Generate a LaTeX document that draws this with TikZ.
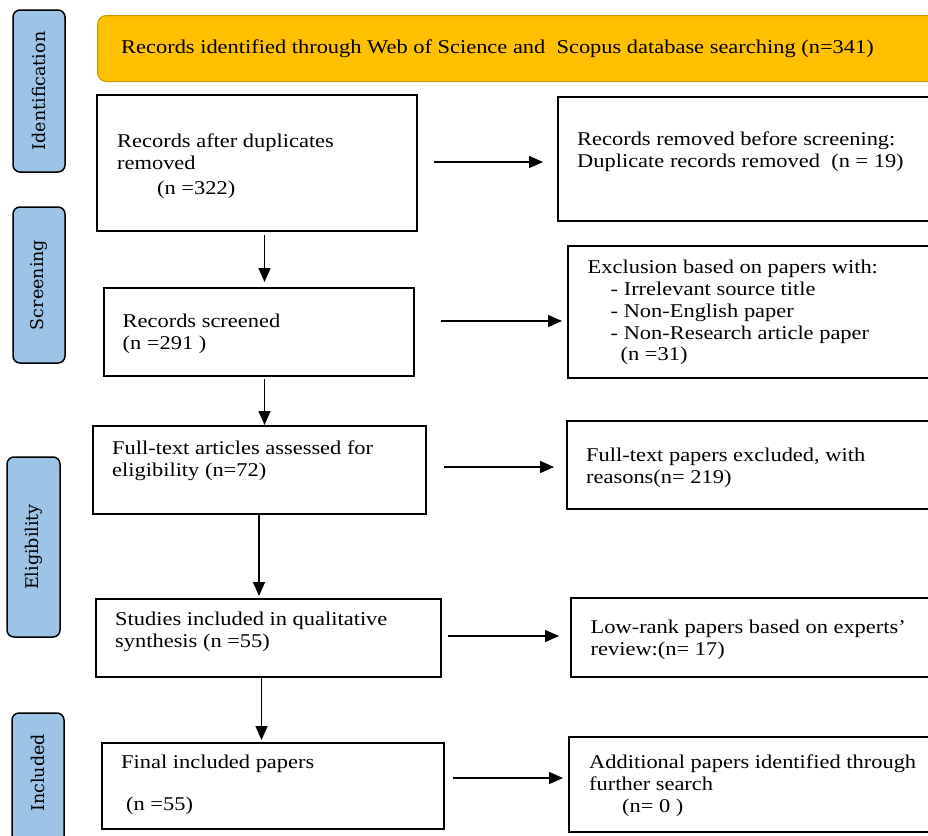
\documentclass[tikz,border=0pt]{standalone}
\usepackage{fontspec}
\setmainfont[FakeStretch=1.15]{Liberation Serif}
\newfontfamily\tabfont{DejaVu Serif}
\usetikzlibrary{arrows.meta}
\definecolor{tabblue}{HTML}{9DC3E6}
\definecolor{orangefill}{HTML}{FFC000}
\definecolor{orangeedge}{HTML}{C99700}
\begin{document}
\begin{tikzpicture}[x=1pt,y=-1pt,
  box/.style={draw=black, line width=1.7pt, anchor=north west, inner sep=0pt, outer sep=0pt},
  tab/.style={draw=black, line width=1.5pt, fill=tabblue, rounded corners=7pt, anchor=north west, inner sep=0pt, outer sep=0pt},
  tablabel/.style={rotate=90, inner sep=0pt, font=\tabfont\fontsize{17.5}{20}\selectfont},
  txt/.style={anchor=north west, inner sep=0pt, align=left, font=\fontsize{19.5}{21.8}\selectfont},
  arr/.style={line width=1.4pt, -{Triangle[length=14pt,width=12pt]}},
]
\useasboundingbox (0,0) rectangle (928,835);
\clip (0,0) rectangle (928,835);

% phase tabs
\node[tab, minimum width=52pt, minimum height=162pt] (tid) at (13,10) {};
\node[tablabel] (lid) at (tid.center) {Identification};
\node[tab, minimum width=52pt, minimum height=156pt] (tsc) at (13,207) {};
\node[tablabel] (lsc) at (tsc.center) {Screening};
\node[tab, minimum width=53pt, minimum height=180pt] (tel) at (7,457) {};
\node[tablabel] (lel) at (tel.center) {Eligibility};
\node[tab, minimum width=52pt, minimum height=140pt] (tin) at (12,713) {};
\node[tablabel] (lin) at ([yshift=2pt]tin.center |- 0,775) {Included};

% identification banner
\node[draw=orangeedge, fill=orangefill, line width=1pt, rounded corners=9pt, anchor=north west,
      minimum width=860pt, minimum height=66pt] (ident) at (97,15) {};
\node[txt, anchor=west] (identt) at (121,49) {Records identified through Web of Science and\ \ Scopus database searching (n=341)};

% left column
\node[box, minimum width=320pt, minimum height=136pt] (b1) at (97,95) {};
\node[txt] (t1) at (117,134) {Records after duplicates\\removed\\[3pt]\hspace{40pt}(n =322)};
\node[box, minimum width=310pt, minimum height=88pt] (b2) at (104,288) {};
\node[txt] (t2) at (122.5,314) {Records screened\\(n =291 )};
\node[box, minimum width=333pt, minimum height=88pt] (b3) at (93,426) {};
\node[txt] (t3) at (112,441) {Full-text articles assessed for\\eligibility (n=72)};
\node[box, minimum width=345pt, minimum height=78pt] (b4) at (96,599) {};
\node[txt] (t4) at (115,612) {Studies included in qualitative\\synthesis (n =55)};
\node[box, minimum width=342pt, minimum height=86pt] (b5) at (102,743) {};
\node[txt] (t5) at (121,755) {Final included papers\\[20pt]\hspace{5pt}(n =55)};

% right column
\node[box, minimum width=400pt, minimum height=124pt] (r1) at (558,97) {};
\node[txt] (u1) at (577,132) {Records removed before screening:\\Duplicate records removed\ \ (n = 19)};
\node[box, minimum width=400pt, minimum height=132pt] (r2) at (568,246) {};
\node[txt] (u2) at (587.5,260) {Exclusion based on papers with:\\\hspace{23pt}- Irrelevant source title\\\hspace{23pt}- Non-English paper\\\hspace{23pt}- Non-Research article paper\\\hspace{33pt}(n =31)};
\node[box, minimum width=400pt, minimum height=88pt] (r3) at (567,421) {};
\node[txt] (u3) at (586,448) {Full-text papers excluded, with\\reasons(n= 219)};
\node[box, minimum width=400pt, minimum height=79pt] (r4) at (571,598) {};
\node[txt] (u4) at (590.5,620) {Low-rank papers based on experts’\\review:(n= 17)};
\node[box, minimum width=400pt, minimum height=95pt] (r5) at (569,737) {};
\node[txt] (u5) at (589,755) {Additional papers identified through\\further search\\\hspace{33pt}(n= 0 )};

% connector end points
\coordinate (h1s) at (434,162); \coordinate (h1e) at (543,162);
\coordinate (h2s) at (441,321); \coordinate (h2e) at (562,321);
\coordinate (h3s) at (444,467); \coordinate (h3e) at (554,467);
\coordinate (h4s) at (448,636); \coordinate (h4e) at (559,636);
\coordinate (h5s) at (453,778); \coordinate (h5e) at (563,778);
\coordinate (v1s) at (264.5,235); \coordinate (v1e) at (264.5,282);
\coordinate (v2s) at (264.5,379); \coordinate (v2e) at (264.5,425);
\coordinate (v3s) at (259,515); \coordinate (v3e) at (259,596);
\coordinate (v4s) at (261.5,678); \coordinate (v4e) at (261.5,740);

\draw[arr] (h1s) -- (h1e);
\draw[arr] (h2s) -- (h2e);
\draw[arr] (h3s) -- (h3e);
\draw[arr] (h4s) -- (h4e);
\draw[arr] (h5s) -- (h5e);
\draw[arr] (v1s) -- (v1e);
\draw[arr] (v2s) -- (v2e);
\draw[arr] (v3s) -- (v3e);
\draw[arr] (v4s) -- (v4e);
\end{tikzpicture}
\end{document}
